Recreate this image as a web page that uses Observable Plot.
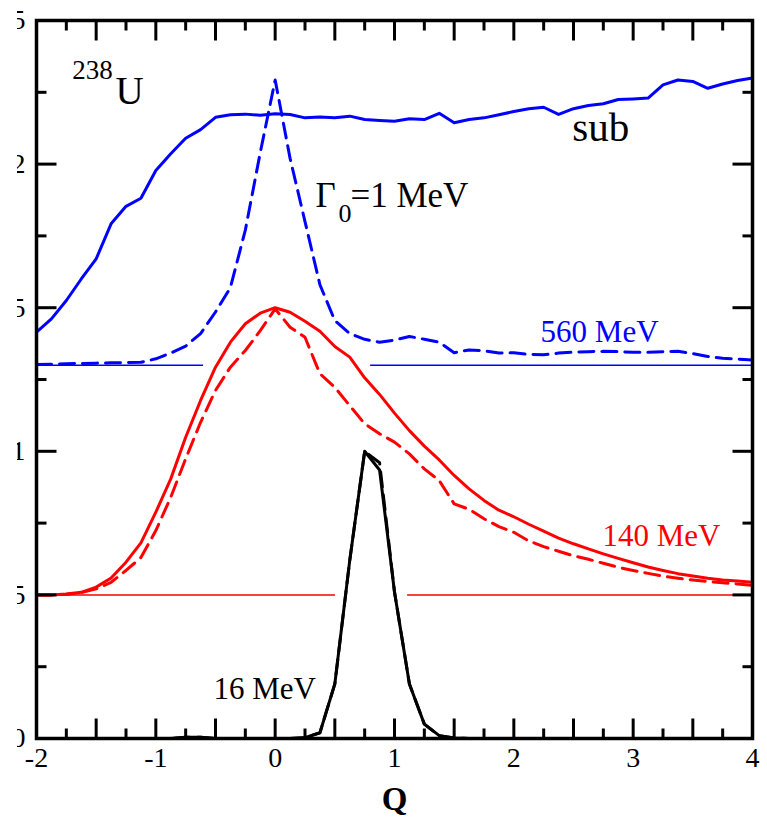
<!DOCTYPE html>
<html>
<head>
<meta charset="utf-8">
<script src="https://cdn.jsdelivr.net/npm/d3@7"></script>
<script src="https://cdn.jsdelivr.net/npm/@observablehq/plot@0.6"></script>
<style>
  html, body { margin: 0; padding: 0; background: white; }
  #chart { margin-left: 17px; width: 750px; height: 820px; overflow: hidden; }
  #chart svg { overflow: hidden; display: block; font-family: "Liberation Serif", "Times New Roman", serif; }
  #chart svg text { font-family: "Liberation Serif", "Times New Roman", serif; }
</style>
</head>
<body>
<div id="chart"></div>
<script>
// Q grid (x values)
const Q = [-2, -1.875, -1.75, -1.625, -1.5, -1.375, -1.25, -1.125,
  -1, -0.875, -0.75, -0.625, -0.5, -0.375, -0.25, -0.125,
  0, 0.125, 0.25, 0.375, 0.5, 0.625, 0.75, 0.875,
  1, 1.125, 1.25, 1.375, 1.5, 1.625, 1.75, 1.875,
  2, 2.125, 2.25, 2.375, 2.5, 2.625, 2.75, 2.875,
  3, 3.125, 3.25, 3.375, 3.5, 3.625, 3.75, 3.875, 4];

// 560 MeV, "sub" (blue solid)
const sub560 = [1.415, 1.461, 1.525, 1.60, 1.67, 1.792, 1.853, 1.881,
  1.978, 2.036, 2.09, 2.12, 2.163, 2.172, 2.174, 2.17,
  2.175, 2.173, 2.161, 2.164, 2.161, 2.167, 2.155, 2.152,
  2.149, 2.158, 2.155, 2.177, 2.144, 2.155, 2.161, 2.172,
  2.183, 2.193, 2.198, 2.173, 2.193, 2.204, 2.21, 2.225,
  2.227, 2.23, 2.276, 2.293, 2.288, 2.264, 2.279, 2.291, 2.30];

// 560 MeV, Gamma0 = 1 MeV (blue dashed)
const g560 = [1.302, 1.303, 1.305, 1.306, 1.307, 1.308, 1.309, 1.31,
  1.322, 1.342, 1.366, 1.41, 1.485, 1.57, 1.77, 2.04,
  2.293, 2.02, 1.80, 1.58, 1.455, 1.41, 1.39, 1.38,
  1.387, 1.40, 1.39, 1.38, 1.343, 1.353, 1.35, 1.342,
  1.343, 1.337, 1.336, 1.342, 1.345, 1.347, 1.348, 1.347,
  1.345, 1.345, 1.347, 1.348, 1.34, 1.33, 1.324, 1.321, 1.318];

// 140 MeV (red solid)
const sub140 = [0.5, 0.5, 0.503, 0.509, 0.527, 0.559, 0.614, 0.681,
  0.788, 0.904, 1.049, 1.177, 1.293, 1.38, 1.444, 1.481,
  1.5, 1.484, 1.453, 1.418, 1.365, 1.328, 1.256, 1.198,
  1.133, 1.072, 1.018, 0.97, 0.916, 0.869, 0.829, 0.795,
  0.772, 0.746, 0.722, 0.698, 0.678, 0.66, 0.643, 0.627,
  0.612, 0.597, 0.585, 0.574, 0.566, 0.558, 0.552, 0.548, 0.544];

// 140 MeV (red dashed)
const g140 = [0.5, 0.5, 0.502, 0.508, 0.521, 0.544, 0.585, 0.63,
  0.724, 0.84, 0.974, 1.101, 1.212, 1.293, 1.351, 1.42,
  1.496, 1.432, 1.397, 1.27, 1.223, 1.159, 1.096, 1.061,
  1.032, 0.991, 0.939, 0.898, 0.817, 0.798, 0.765, 0.738,
  0.718, 0.688, 0.668, 0.652, 0.636, 0.624, 0.61, 0.596,
  0.585, 0.575, 0.565, 0.558, 0.552, 0.547, 0.542, 0.538, 0.533];

// 16 MeV (black solid)
const sub16 = [0, 0, 0, 0, 0, 0, 0, 0,
  0, 0, 0.004, 0.004, 0, 0, 0, 0,
  0, 0, 0.003, 0.02, 0.19, 0.62, 1.0, 0.935,
  0.51, 0.19, 0.05, 0.01, 0.002, 0, 0, 0,
  0, 0, 0, 0, 0, 0, 0, 0,
  0, 0, 0, 0, 0, 0, 0, 0, 0];

// 16 MeV (black dashed)
const g16 = [0, 0, 0, 0, 0, 0, 0, 0,
  0, 0, 0.004, 0.004, 0, 0, 0, 0,
  0, 0, 0.003, 0.02, 0.19, 0.62, 1.0, 0.96,
  0.51, 0.19, 0.05, 0.01, 0.002, 0, 0, 0,
  0, 0, 0, 0, 0, 0, 0, 0,
  0, 0, 0, 0, 0, 0, 0, 0, 0];

// baselines (offset levels) and their segments
const baseBlueLevel = 1.3;
const baseBlueSegments = [[-2, -0.6], [0.8, 4]];
const baseRedLevel = 0.5;
const baseRedSegments = [[-2, 0.506], [1.11, 4]];

// ticks
const xTicks = [-2, -1, 0, 1, 2, 3, 4];
const xTickLabels = ["-2", "-1", "0", "1", "2", "3", "4"];
const xMajor = [-2, -1.5, -1, -0.5, 0, 0.5, 1, 1.5, 2, 2.5, 3, 3.5, 4];
const xMinor = [-1.75, -1.25, -0.75, -0.25, 0.25, 0.75, 1.25, 1.75, 2.25, 2.75, 3.25, 3.75];
const yTicks = [0, 0.5, 1, 1.5, 2, 2.5];
const yTickLabels = ["0", "0.5", "1", "1.5", "2", "2.5"];
const yMinor = [0.25, 0.75, 1.25, 1.75, 2.25];

const rows = (vals) => Q.map((q, i) => ({q, v: vals[i]}));

const seg = (dx, dy) => ({
  draw(ctx, size) {
    const l = Math.sqrt(size / Math.PI);
    ctx.moveTo(0, 0);
    ctx.lineTo(dx * l, dy * l);
  }
});
const up = seg(0, -1), down = seg(0, 1), right = seg(1, 0), left = seg(-1, 0);

const serif = "'Liberation Serif', 'Times New Roman', serif";
const tickStyle = {fill: "none", stroke: "black", strokeWidth: 3};
const dash = "15,8";
const txt = {fontFamily: serif};

const chart = Plot.plot({
  width: 750,
  height: 820,
  marginLeft: 19,
  marginRight: 15,
  marginTop: 20,
  marginBottom: 82,
  x: {domain: [-2, 4], axis: null},
  y: {domain: [0, 2.5], axis: null},
  style: {background: "white", fontFamily: serif, overflow: "hidden"},
  marks: [
    // baselines
    Plot.ruleY(baseBlueSegments, {y: () => baseBlueLevel, x1: d => d[0], x2: d => d[1], stroke: "#0000ff", strokeWidth: 1.5}),
    Plot.ruleY(baseRedSegments, {y: () => baseRedLevel, x1: d => d[0], x2: d => d[1], stroke: "#ff0000", strokeWidth: 1.5}),
    // curves
    Plot.line(rows(sub560), {x: "q", y: "v", stroke: "#0000ff", strokeWidth: 3}),
    Plot.line(rows(g560), {x: "q", y: "v", stroke: "#0000ff", strokeWidth: 3, strokeDasharray: dash}),
    Plot.line(rows(sub140), {x: "q", y: "v", stroke: "#ff0000", strokeWidth: 3}),
    Plot.line(rows(g140), {x: "q", y: "v", stroke: "#ff0000", strokeWidth: 3, strokeDasharray: dash}),
    Plot.line(rows(sub16), {x: "q", y: "v", stroke: "black", strokeWidth: 3}),
    Plot.line(rows(g16), {x: "q", y: "v", stroke: "black", strokeWidth: 3, strokeDasharray: dash}),
    // ticks (inward)
    Plot.dot(xMajor, {x: d => d, frameAnchor: "bottom", symbol: up, r: 20, ...tickStyle}),
    Plot.dot(xMinor, {x: d => d, frameAnchor: "bottom", symbol: up, r: 10, ...tickStyle}),
    Plot.dot(xMajor, {x: d => d, frameAnchor: "top", symbol: down, r: 20, ...tickStyle}),
    Plot.dot(xMinor, {x: d => d, frameAnchor: "top", symbol: down, r: 10, ...tickStyle}),
    Plot.dot(yTicks, {y: d => d, frameAnchor: "left", symbol: right, r: 20, ...tickStyle}),
    Plot.dot(yMinor, {y: d => d, frameAnchor: "left", symbol: right, r: 10, ...tickStyle}),
    Plot.dot(yTicks, {y: d => d, frameAnchor: "right", symbol: left, r: 20, ...tickStyle}),
    Plot.dot(yMinor, {y: d => d, frameAnchor: "right", symbol: left, r: 10, ...tickStyle}),
    // tick labels
    Plot.text(xTicks, {x: d => d, frameAnchor: "bottom", dy: 28, text: (d, i) => xTickLabels[i], fontSize: 28, fill: "black", ...txt}),
    Plot.text(yTicks, {y: d => d, frameAnchor: "left", dx: -11, textAnchor: "end", text: (d, i) => yTickLabels[i], fontSize: 28, fill: "black", ...txt}),
    // axis label
    Plot.text(["Q"], {frameAnchor: "bottom", dy: 71, lineAnchor: "bottom", fontSize: 33, fontWeight: "bold", fill: "black", ...txt}),
    // annotations
    Plot.text(["238"], {x: -1.70, y: 2.298, textAnchor: "start", lineAnchor: "bottom", fontSize: 27, fill: "black", ...txt}),
    Plot.text(["U"], {x: -1.338, y: 2.211, textAnchor: "start", lineAnchor: "bottom", fontSize: 39, fill: "black", ...txt}),
    Plot.text(["sub"], {x: 2.49, y: 2.079, textAnchor: "start", lineAnchor: "bottom", fontSize: 41, fill: "black", ...txt}),
    Plot.text(["Γ"], {x: 0.338, y: 1.849, textAnchor: "start", lineAnchor: "bottom", fontSize: 35, fill: "black", ...txt}),
    Plot.text(["0"], {x: 0.531, y: 1.797, textAnchor: "start", lineAnchor: "bottom", fontSize: 26, fill: "black", ...txt}),
    Plot.text(["=1 MeV"], {x: 0.631, y: 1.849, textAnchor: "start", lineAnchor: "bottom", fontSize: 35, fill: "black", ...txt}),
    Plot.text(["560 MeV"], {x: 2.224, y: 1.379, textAnchor: "start", lineAnchor: "bottom", fontSize: 31, fill: "#0000ff", ...txt}),
    Plot.text(["140 MeV"], {x: 2.743, y: 0.672, textAnchor: "start", lineAnchor: "bottom", fontSize: 31, fill: "#ff0000", ...txt}),
    Plot.text(["16 MeV"], {x: -0.517, y: 0.139, textAnchor: "start", lineAnchor: "bottom", fontSize: 31, fill: "black", ...txt}),
    // frame
    Plot.frame({stroke: "black", strokeWidth: 3.5})
  ]
});
document.getElementById("chart").appendChild(chart);
</script>
</body>
</html>
